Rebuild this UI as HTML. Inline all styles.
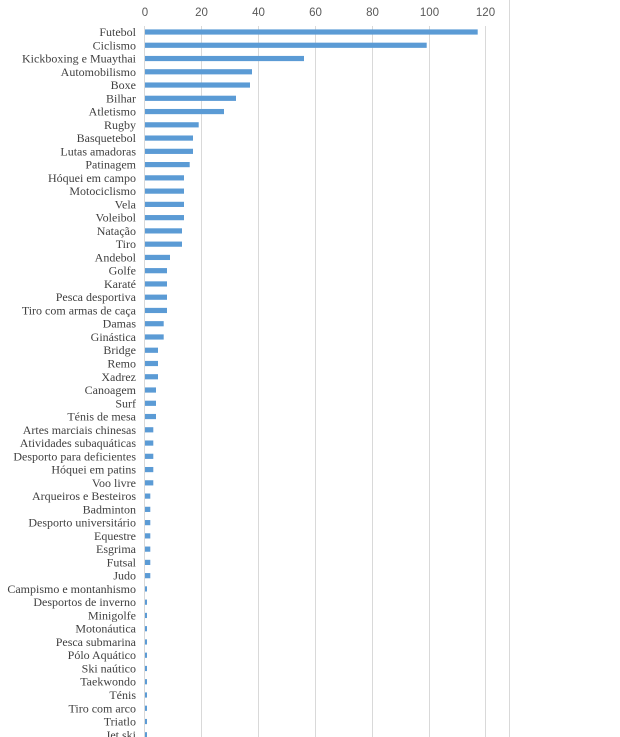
<!DOCTYPE html>
<html><head><meta charset="utf-8"><style>
html,body{margin:0;padding:0;background:#fff;width:620px;height:737px;overflow:hidden}
svg{display:block}
.c{font-family:"Liberation Serif",serif;font-size:12px;fill:#404040}
.t{font-family:"Liberation Sans",sans-serif;font-size:11.5px;fill:#595959}
</style></head><body>
<svg width="620" height="737" xmlns="http://www.w3.org/2000/svg">
<g stroke="#d9d9d9" stroke-width="1">
<line x1="201.5" y1="26" x2="201.5" y2="737"/>
<line x1="258.5" y1="26" x2="258.5" y2="737"/>
<line x1="315.5" y1="26" x2="315.5" y2="737"/>
<line x1="372.5" y1="26" x2="372.5" y2="737"/>
<line x1="429.5" y1="26" x2="429.5" y2="737"/>
<line x1="485.5" y1="26" x2="485.5" y2="737"/>
<line x1="509.5" y1="0" x2="509.5" y2="737"/>
<line x1="144.5" y1="26" x2="144.5" y2="737"/>
</g>
<g class="t" text-anchor="middle">
<text x="145" y="16">0</text><text x="201.5" y="16">20</text><text x="258.5" y="16">40</text><text x="315.5" y="16">60</text><text x="372.5" y="16">80</text><text x="429.5" y="16">100</text><text x="485.5" y="16">120</text>
</g>
<g id="rows"></g>
</svg>
<script>
var d=[["Futebol",477.7],["Ciclismo",426.7],["Kickboxing e Muaythai",304],["Automobilismo",252],["Boxe",250],["Bilhar",236],["Atletismo",224],["Rugby",198.7],["Basquetebol",193],["Lutas amadoras",193],["Patinagem",189.7],["Hóquei em campo",184],["Motociclismo",184],["Vela",184],["Voleibol",184],["Natação",182],["Tiro",182],["Andebol",170],["Golfe",167],["Karaté",167],["Pesca desportiva",167],["Tiro com armas de caça",167],["Damas",163.7],["Ginástica",163.7],["Bridge",158],["Remo",158],["Xadrez",158],["Canoagem",156],["Surf",156],["Ténis de mesa",156],["Artes marciais chinesas",153.3],["Atividades subaquáticas",153.3],["Desporto para deficientes",153.3],["Hóquei em patins",153.3],["Voo livre",153.3],["Arqueiros e Besteiros",150.3],["Badminton",150.3],["Desporto universitário",150.3],["Equestre",150.3],["Esgrima",150.3],["Futsal",150.3],["Judo",150.3],["Campismo e montanhismo",147],["Desportos de inverno",147],["Minigolfe",147],["Motonáutica",147],["Pesca submarina",147],["Pólo Aquático",147],["Ski naútico",147],["Taekwondo",147],["Ténis",147],["Tiro com arco",147],["Triatlo",147],["Jet ski",147]];
var g=document.getElementById("rows"),s="";
for(var i=0;i<d.length;i++){var y=32+i*13.26;
s+='<rect x="145" y="'+(y-2.6)+'" width="'+(d[i][1]-145)+'" height="5.2" fill="#5b9bd5"/>';
s+='<text class="c" x="136" y="'+(y+4)+'" text-anchor="end">'+d[i][0]+'</text>';}
g.innerHTML=s;
</script>
</body></html>
